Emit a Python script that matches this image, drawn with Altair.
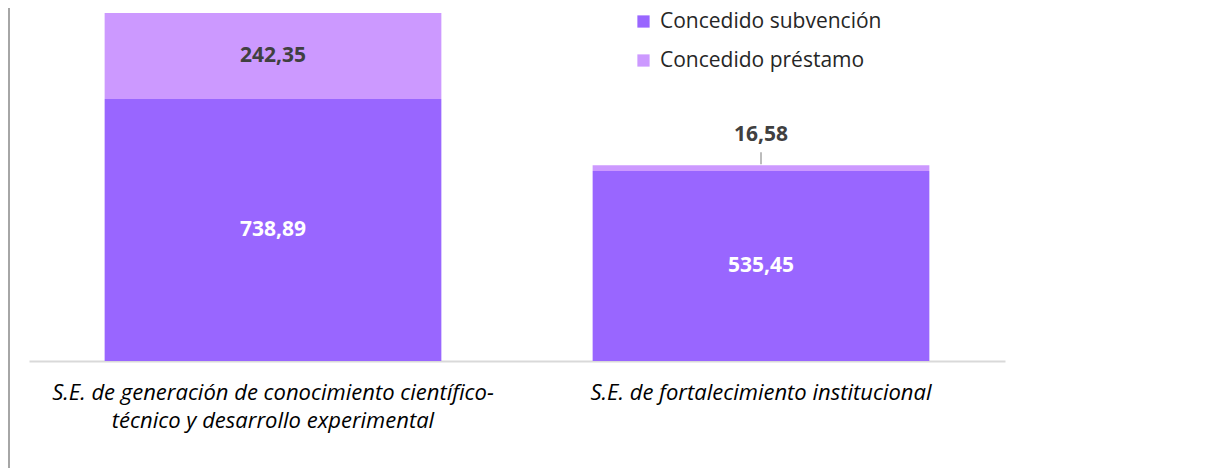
import altair as alt
import pandas as pd

categories = [
    "S.E. de generación de conocimiento científico-|técnico y desarrollo experimental",
    "S.E. de fortalecimiento institucional",
]
subvencion = [738.89, 535.45]
prestamo = [242.35, 16.58]
series = ["Concedido subvención", "Concedido préstamo"]
colors = ["#9966FF", "#CC99FF"]

FONT = "Open Sans"

rows = []
for i, c in enumerate(categories):
    rows.append({"cat": c, "serie": series[0], "value": subvencion[i], "ord": 0,
                 "label": f"{subvencion[i]:.2f}".replace(".", ","), "inside": True})
    rows.append({"cat": c, "serie": series[1], "value": prestamo[i], "ord": 1,
                 "label": f"{prestamo[i]:.2f}".replace(".", ","), "inside": prestamo[i] > 50})
df = pd.DataFrame(rows)

cats_df = pd.DataFrame({"cat": categories})

xscale = alt.Scale(domain=categories, paddingInner=0.31, paddingOuter=0.155)
yscale = alt.Scale(domain=[0, sum([subvencion[0], prestamo[0]])], nice=False, zero=True)

base = alt.Chart(df).transform_stack(
    stack="value", groupby=["cat"], as_=["y0", "y1"], sort=[alt.SortField("ord")]
).transform_calculate(mid="(datum.y0 + datum.y1) / 2")

bars = base.mark_bar().encode(
    x=alt.X("cat:N", scale=xscale, sort=categories,
            axis=alt.Axis(title=None, labels=False, ticks=False, domainColor="#D9D9D9",
                          domainWidth=2)),
    y=alt.Y("y0:Q", scale=yscale, axis=None),
    y2="y1:Q",
    color=alt.Color("serie:N", scale=alt.Scale(domain=series, range=colors),
                    legend=alt.Legend(title=None, orient="none", legendX=604, legendY=-2,
                                      symbolType="square", symbolSize=150, symbolStrokeWidth=0,
                                      labelFont=FONT, labelFontSize=21, labelColor="#262626",
                                      labelLimit=500, rowPadding=17, labelOffset=6, padding=0)),
)

inside_labels = base.transform_filter("datum.inside").mark_text(
    font=FONT, fontSize=21, fontWeight="bold", baseline="middle"
).encode(
    x=alt.X("cat:N", scale=xscale, sort=categories),
    y=alt.Y("mid:Q", scale=yscale),
    text="label:N",
    color=alt.Color("serie:N", scale=alt.Scale(domain=series, range=["#FFFFFF", "#404040"]),
                    legend=None),
)

outside_labels = base.transform_filter("!datum.inside").mark_text(
    font=FONT, fontSize=21, fontWeight="bold", baseline="middle", dy=-30, color="#404040"
).encode(
    x=alt.X("cat:N", scale=xscale, sort=categories),
    y=alt.Y("y1:Q", scale=yscale),
    text="label:N",
)

leader = base.transform_filter("!datum.inside").mark_rule(
    color="#A6A6A6", strokeWidth=1.5, yOffset=-1, y2Offset=-13
).encode(
    x=alt.X("cat:N", scale=xscale, sort=categories),
    y=alt.Y("y1:Q", scale=yscale),
    y2="y1:Q",
)

cat_labels = alt.Chart(cats_df).transform_calculate(
    lines="split(datum.cat, '|')"
).mark_text(
    font=FONT, fontSize=22, fontStyle="italic", color="#000000", baseline="middle",
    lineHeight=28
).encode(
    x=alt.X("cat:N", scale=xscale, sort=categories),
    y=alt.value(380),
    text="lines:N",
)

frame = alt.Chart(cats_df).mark_rule(color="#A6A6A6", strokeWidth=2).encode(
    x=alt.value(-20), y=alt.value(-5), y2=alt.value(460)
)

chart = alt.layer(frame, bars, inside_labels, outside_labels, leader, cat_labels).properties(
    width=976, height=348,
    background="white",
    autosize=alt.AutoSizeParams(type="none"),
    padding={"left": 21, "top": 5, "right": 200, "bottom": 107},
).resolve_scale(color="independent").configure_view(strokeWidth=0, strokeOpacity=0)

chart.save("out.html", embed_options={"renderer": "svg", "actions": False})
